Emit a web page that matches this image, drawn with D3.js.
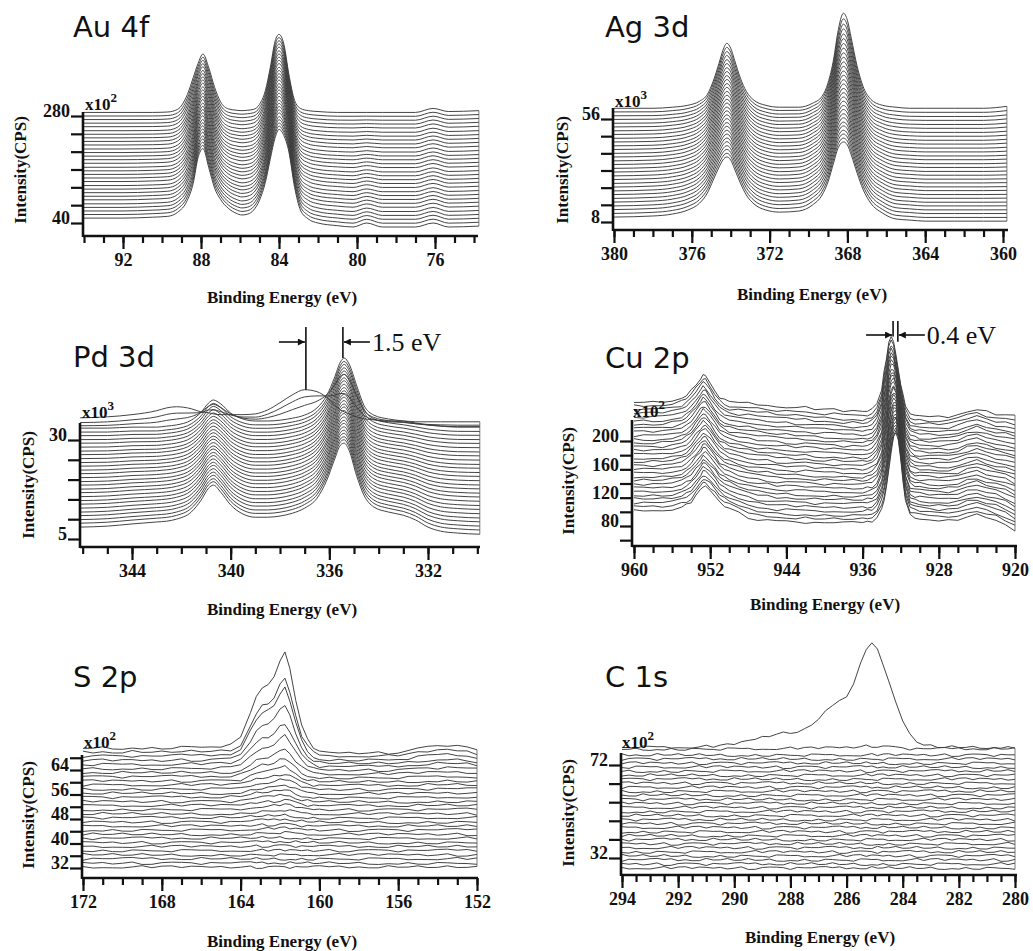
<!DOCTYPE html>
<html>
<head>
<meta charset="utf-8">
<script src="https://cdn.jsdelivr.net/npm/d3@7"></script>
<style>
body { margin: 0; background: #fff; }
text { font-family: "Liberation Serif", "Times New Roman", serif; font-weight: bold; fill: #111; }
.title { font-family: "DejaVu Sans", sans-serif; font-weight: normal; font-size: 29px; }
.trace { fill: none; stroke: #3a3a3a; stroke-width: 0.95; }
.axisline { stroke: #111; stroke-width: 2.6; }
</style>
</head>
<body>
<svg id="chart" width="1033" height="951"></svg>
<script>

// 
// spectra, intensities in the units of each y axis
// low = first (bottom) trace above its own baseline, high = last (top) trace
// 

// Au 4f
var auEnergy = [94, 92, 90.5, 89.7, 89.2, 88.7, 88.4, 88.15, 87.9, 87.6, 87.3, 87.0, 86.6, 86.2, 85.9, 85.6, 85.3, 85.0, 84.7, 84.45, 84.2, 84.0, 83.75, 83.5, 83.2, 82.9, 82.5, 82.0, 81.0, 80.2, 79.5, 78.7, 77.0, 76.1, 75.3, 73.75];
var auLow = [0, 0, 2, 4, 13, 40, 78, 136, 156, 113, 67, 42, 22, 11, 7, 9, 18, 40, 80, 132, 180, 199, 185, 150, 69, 18, -2, -11, -17, -20, -11, -20, -20, -11, -20, -18];
var auHigh = [0, 0, 0, 1, 7, 40, 78, 110, 131, 100, 56, 24, 8, 5, 4, 5, 7, 18, 49, 100, 160, 175, 153, 87, 27, 9, 4, 2, 0, 0, 0, 0, 0, 9, 2, 4];
var auBase = [51, 59, 67, 75, 83, 92, 100, 108, 116, 124, 133, 141, 149, 157, 165, 174, 182, 190, 198, 206, 215, 223, 231, 239, 247, 256, 264, 272, 280, 288];
var auMix = [0, 0.03, 0.07, 0.1, 0.14, 0.17, 0.21, 0.24, 0.28, 0.31, 0.34, 0.38, 0.41, 0.45, 0.48, 0.52, 0.55, 0.59, 0.62, 0.66, 0.69, 0.72, 0.76, 0.79, 0.83, 0.86, 0.9, 0.93, 0.97, 1];
var auXLabels = [92, 88, 84, 80, 76];
var auYLabels = [40, 280];

// Ag 3d
var agEnergy = [380, 378, 377, 376.2, 375.6, 375.2, 374.9, 374.6, 374.4, 374.2, 374.0, 373.8, 373.5, 373.2, 372.8, 372.2, 371.5, 370.5, 369.8, 369.3, 369.0, 368.7, 368.5, 368.2, 368.0, 367.8, 367.5, 367.2, 366.8, 366.2, 365.5, 364.8, 364.0, 362.5, 361, 359.8];
var agLow = [0, 0.5, 1.4, 3.3, 6.5, 11.2, 17.2, 23.3, 26.6, 28, 26.6, 22.4, 15.8, 10.3, 6.1, 3.3, 2.3, 2.8, 5.6, 10.3, 16.3, 25.6, 31.7, 35, 33.6, 28.9, 20.5, 13, 6.5, 1.9, -0.9, -1.4, -1.9, -1.9, -1.9, -1.9];
var agHigh = [0, 0, 0.5, 1.4, 3.3, 6.5, 12.6, 21, 27, 30.3, 28, 22.4, 14, 7.9, 3.7, 1.4, 0.5, 0.5, 2.3, 5.6, 11.7, 23.3, 35, 44.3, 41, 32.6, 19.6, 10.3, 4.2, 1.4, 0.5, 0, 0, 0, 0, 0.9];
var agBase = [10.3, 12.0, 13.8, 15.5, 17.3, 19.0, 20.8, 22.5, 24.3, 26.0, 27.8, 29.5, 31.3, 33.0, 34.8, 36.5, 38.3, 40.0, 41.8, 43.5, 45.3, 47.0, 48.8, 50.5, 52.3, 54.0, 55.8, 57.5, 59.3, 61.0];
var agMix = [0, 0.01, 0.02, 0.03, 0.05, 0.06, 0.08, 0.1, 0.12, 0.14, 0.16, 0.19, 0.21, 0.24, 0.27, 0.3, 0.33, 0.36, 0.4, 0.44, 0.48, 0.52, 0.56, 0.61, 0.66, 0.71, 0.77, 0.83, 0.9, 1];
var agXLabels = [380, 376, 372, 368, 364, 360];
var agYLabels = [8, 56];

// Pd 3d (metal doublet plus the shifted oxide doublet of the top traces)
var pdEnergy = [346.1, 345, 344, 343, 342.6, 342.2, 341.6, 341.2, 340.9, 340.7, 340.4, 340.0, 339.5, 339, 338.5, 338, 337.5, 337.0, 336.5, 336.1, 335.8, 335.55, 335.4, 335.2, 334.9, 334.6, 334.2, 333.6, 333.0, 332.5, 332.0, 331.5, 330.8, 329.9];
var pdLow = [0, 0.25, 0.8, 1.3, 1.5, 2.0, 3.8, 6.8, 9.8, 10.6, 8.8, 5.6, 3.3, 2.5, 2.5, 2.8, 3.5, 4.8, 7.3, 11.9, 16.9, 20.7, 21.2, 19.4, 13.1, 8.1, 5.1, 3.8, 3.0, 1.8, 0, -1.0, -1.5, -1.8];
var pdHigh = [0, 0, 0.25, 0.25, 0.5, 0.8, 2.0, 4.0, 6.3, 7.1, 6.1, 3.8, 2.3, 1.8, 1.8, 2.0, 2.5, 3.3, 5.1, 8.3, 12.6, 16.7, 17.7, 16.2, 10.9, 5.8, 3.3, 2.3, 1.8, 1.3, 0.8, 0.5, 0.25, 0.25];
var pdOxide = [0, 0.25, 0.8, 1.8, 2.5, 2.8, 2.3, 1.5, 1.3, 1.0, 0.8, 0.8, 0.8, 1.0, 2.0, 3.8, 5.8, 7.1, 6.6, 5.1, 3.3, 2.0, 1.5, 1.0, 0.25, -0.25, -0.5, -0.8, -0.8, -1.0, -1.0, -1.0, -1.0, -1.0];
var pdBase = [8.0, 9.0, 9.9, 10.9, 11.8, 12.8, 13.8, 14.7, 15.7, 16.7, 17.6, 18.6, 19.5, 20.5, 21.5, 22.4, 23.4, 24.3, 25.3, 26.3, 27.2, 28.2, 29.2, 30.1, 31.1, 32.0, 33.0, 33.6, 34.4, 35.6];
var pdMix = [0, 0.04, 0.08, 0.12, 0.15, 0.19, 0.23, 0.27, 0.31, 0.35, 0.38, 0.42, 0.46, 0.5, 0.54, 0.58, 0.62, 0.65, 0.69, 0.73, 0.77, 0.81, 0.85, 0.88, 0.92, 0.96, 1, 1, 1, 1];
var pdMetal = [1, 1, 1, 1, 1, 1, 1, 1, 1, 1, 1, 1, 1, 1, 1, 1, 1, 1, 1, 1, 1, 1, 1, 1, 1, 1, 1, 0.7, 0.35, 0];
var pdOxideW = [0, 0, 0, 0, 0, 0, 0, 0, 0, 0, 0, 0, 0, 0, 0, 0, 0, 0, 0, 0, 0, 0, 0, 0, 0, 0, 0, 0.4, 0.75, 1];
var pdXLabels = [344, 340, 336, 332];
var pdYLabels = [5, 30];
var pdShift = [336.95, 335.45];

// Cu 2p
var cuEnergy = [960, 959, 958, 957, 956, 955, 954.5, 954, 953.5, 953, 952.75, 952.5, 952, 951.5, 951, 950.5, 950, 949, 948, 947, 946, 945, 944, 943, 942, 941, 940, 939, 938, 937, 936, 935.5, 935, 934.5, 934, 933.75, 933.5, 933.25, 933, 932.75, 932.5, 932.25, 932, 931.75, 931.5, 931, 930.5, 930, 929, 928, 927, 926, 925, 924, 923, 922, 921, 920];
var cuLow = [0, 0, 0, 0, 1, 4, 7, 11, 20, 28, 33, 33, 27, 20, 11, 6, 3, -4, -10, -13, -14, -16, -16, -17, -17, -18, -18, -18, -18, -18, -18, -17, -16, -11, 3, 14, 31, 57, 82, 102, 110, 99, 71, 40, 14, -7, -10, -11, -13, -14, -14, -13, -8, -6, -11, -14, -20, -28];
var cuHigh = [0, 0, 0, 1, 3, 6, 10, 17, 25, 34, 38, 37, 27, 16, 7, 3, 0, -1, -1, -3, -4, -6, -7, -8, -8, -10, -11, -11, -13, -13, -14, -13, -10, -1, 17, 42, 62, 86, 92, 84, 66, 45, 26, 10, -6, -17, -20, -21, -21, -21, -21, -18, -13, -10, -14, -18, -18, -20];
var cuBase = [102.4, 107.7, 112.9, 118.2, 123.4, 128.7, 134.0, 139.2, 144.5, 149.7, 155.0, 160.3, 165.5, 170.8, 176.0, 181.3, 186.6, 191.8, 197.1, 202.3, 207.6, 212.9, 218.1, 223.4, 228.6, 233.9, 239.2, 244.4, 249.7, 255.0];
var cuMix = [0, 0.03, 0.07, 0.1, 0.14, 0.17, 0.21, 0.24, 0.28, 0.31, 0.34, 0.38, 0.41, 0.45, 0.48, 0.52, 0.55, 0.59, 0.62, 0.66, 0.69, 0.72, 0.76, 0.79, 0.83, 0.86, 0.9, 0.93, 0.97, 1];
var cuXLabels = [960, 952, 944, 936, 928, 920];
var cuYLabels = [80, 120, 160, 200];
var cuShift = [932.8, 932.3];

// S 2p
var sEnergy = [172, 171.5, 171, 170.5, 170, 169.5, 169, 168.5, 168, 167.5, 167, 166.5, 166, 165.5, 165, 164.5, 164, 163.5, 163.2, 162.9, 162.6, 162.3, 162.0, 161.75, 161.5, 161.2, 160.9, 160.6, 160.3, 160, 159.5, 159, 158.5, 158, 157.5, 157, 156.5, 156, 155.5, 155, 154.5, 154, 153.5, 153, 152.5, 152];
var sPeak = [0, 0, 0.16, 0, 0, 0.16, 0, 0, 0, 0.16, 0.33, 0.33, 0.33, 0.49, 0.65, 1.0, 3.3, 11.4, 16.7, 19.9, 20.9, 23.5, 28.7, 31.3, 25.5, 15.7, 7.2, 2.6, 0, -1.3, -1.6, -1.6, -1.6, -1.6, -1.6, -1.6, -1.6, -1.3, -1.0, -0.3, 0.3, 0.65, 1.0, 0.65, 0.3, -0.65];
var sBase = [32.3, 33.6, 35.0, 36.3, 37.7, 39.0, 40.3, 41.7, 43.0, 44.4, 45.7, 47.0, 48.4, 49.7, 51.1, 52.4, 53.7, 55.1, 56.4, 57.8, 59.1, 60.4, 61.8, 63.1, 64.5, 65.8, 67.1, 68.5, 69.8, 71.2];
var sMix = [0, 0, 0, 0, 0, 0.01, 0.01, 0.01, 0.02, 0.02, 0.02, 0.03, 0.03, 0.04, 0.05, 0.06, 0.07, 0.08, 0.09, 0.1, 0.12, 0.15, 0.19, 0.25, 0.34, 0.43, 0.57, 0.71, 0.77, 1];
var sXLabels = [172, 168, 164, 160, 156, 152];
var sYLabels = [32, 40, 48, 56, 64];

// C 1s
var cEnergy = [294, 293.75, 293.5, 293.25, 293, 292.75, 292.5, 292.25, 292, 291.75, 291.5, 291.25, 291, 290.75, 290.5, 290.25, 290, 289.75, 289.5, 289.25, 289, 288.75, 288.5, 288.25, 288, 287.75, 287.5, 287.25, 287, 286.75, 286.5, 286.25, 286, 285.75, 285.5, 285.3, 285.1, 284.9, 284.7, 284.5, 284.25, 284, 283.75, 283.5, 283.25, 283, 282.75, 282.5, 282.25, 282, 281.75, 281.5, 281.25, 281, 280.75, 280.5, 280.25, 280];
var cPeak = [0, 0, 0, 0, 0, 0, 0, 0, 0, 0, 0, 0, 0.2, 0.2, 0.43, 0.86, 1.3, 1.9, 2.6, 3.4, 4.3, 4.9, 5.6, 6.0, 6.5, 6.9, 7.7, 9.0, 11.6, 15.5, 18.5, 19.8, 21.5, 27.1, 35.7, 41.3, 44.7, 41.7, 35.7, 28.4, 19.8, 11.6, 5.2, 2.2, 0.86, 0.43, 0, 0, 0, 0, 0, 0, 0, 0, 0, 0, 0, 0];
var cBase = [27.7, 29.4, 31.2, 32.9, 34.6, 36.4, 38.1, 39.9, 41.6, 43.3, 45.1, 46.8, 48.5, 50.3, 52.0, 53.7, 55.5, 57.2, 59.0, 60.7, 62.4, 64.2, 65.9, 67.6, 69.4, 71.1, 72.8, 74.6, 76.3, 78.9, 79.7];
var cMix = [0, 0, 0, 0, 0, 0, 0, 0, 0, 0, 0, 0, 0, 0, 0, 0, 0, 0, 0, 0, 0, 0, 0, 0, 0, 0, 0, 0, 0, 0.03, 1];
var cXLabels = [294, 292, 290, 288, 286, 284, 282, 280];
var cYLabels = [32, 72];

// counting noise seen on the weak spectra, relative size
var ripple = [0.3, -0.5, 0.8, -0.2, -0.9, 0.4, 0.1, -0.6, 0.9, -0.3, 0.5, -0.8, 0.2, 0.7, -0.4, -0.1, 0.6, -0.7, 0.3, -0.2, 0.9, -0.5, 0.0, 0.4, -0.9, 0.6, -0.3, 0.2, -0.6, 0.8, -0.1, -0.4, 0.5, -0.8, 0.7, 0.1, -0.3, 0.4, -0.7, 0.2, 0.6, -0.5, 0.9, -0.2, -0.6, 0.3, -0.9, 0.5, 0.1, -0.4, 0.8, -0.1, -0.7, 0.4, 0.2, -0.5, 0.6, -0.3, 0.7, -0.8, 0.1];


var svg = d3.select("#chart");

svg.append("defs").append("marker")
    .attr("id", "arrow")
    .attr("viewBox", "0 0 10 10")
    .attr("refX", 10).attr("refY", 5)
    .attr("markerWidth", 9).attr("markerHeight", 7)
    .attr("markerUnits", "userSpaceOnUse")
    .attr("orient", "auto")
    .append("path").attr("d", "M0,0 L10,5 L0,10 z").attr("fill", "#111");

// layout of the six panels
var panels = [
    { title: "Au 4f", titleAt: [73, 37], power: "2", powerAt: [85, 110],
      energy: auEnergy, low: auLow, high: auHigh, base: auBase, mix: auMix,
      xRef: [92, 76], xPx: [123, 435], xLine: [83, 478], xTicks: [74, 94, 1], xLabels: auXLabels,
      yRef: [40, 280], yPx: [223, 116], yLine: [236, 112], yTicks: [40, 280, 40], yLabels: auYLabels,
      xTitleAt: [282, 303], yTitleAt: [26, 170] },
    { title: "Ag 3d", titleAt: [605, 37], power: "3", powerAt: [615, 107],
      energy: agEnergy, low: agLow, high: agHigh, base: agBase, mix: agMix,
      xRef: [380, 360], xPx: [614, 1003], xLine: [613, 1008], xTicks: [360, 380, 1], xLabels: agXLabels,
      yRef: [8, 56], yPx: [222, 119], yLine: [230, 108], yTicks: [8, 56, 8], yLabels: agYLabels,
      xTitleAt: [812, 300], yTitleAt: [568, 170] },
    { title: "Pd 3d", titleAt: [73, 367], power: "3", powerAt: [82, 418],
      energy: pdEnergy, low: pdLow, high: pdHigh, base: pdBase, mix: pdMix,
      amp: pdMetal, extra: pdOxide, extraW: pdOxideW,
      xRef: [344, 332], xPx: [132, 428], xLine: [80, 480], xTicks: [330, 346, 1], xLabels: pdXLabels,
      yRef: [5, 30], yPx: [539, 440], yLine: [547, 423], yTicks: [5, 30, 5], yLabels: pdYLabels,
      xTitleAt: [282, 615], yTitleAt: [34, 485],
      shift: pdShift, shiftText: "1.5 eV", shiftTop: 327, shiftArrowY: 342 },
    { title: "Cu 2p", titleAt: [605, 368], power: "2", powerAt: [633, 417],
      energy: cuEnergy, low: cuLow, high: cuHigh, base: cuBase, mix: cuMix, noise: 2,
      xRef: [960, 920], xPx: [634, 1015], xLine: [632, 1017], xTicks: [920, 960, 2], xLabels: cuXLabels,
      yRef: [80, 200], yPx: [526, 441], yLine: [546, 420], yTicks: [60, 200, 20], yLabels: cuYLabels,
      xTitleAt: [825, 610], yTitleAt: [574, 481],
      shift: cuShift, shiftText: "0.4 eV", shiftTop: 321, shiftArrowY: 335 },
    { title: "S 2p", titleAt: [73, 687], power: "2", powerAt: [84, 748],
      energy: sEnergy, high: sPeak, base: sBase, mix: sMix, noise: 0.5,
      xRef: [172, 152], xPx: [83, 477], xLine: [82, 478], xTicks: [152, 172, 1], xLabels: sXLabels,
      yRef: [32, 64], yPx: [868, 770], yLine: [878, 755], yTicks: [32, 68, 4], yLabels: sYLabels,
      xTitleAt: [282, 947], yTitleAt: [34, 815] },
    { title: "C 1s", titleAt: [605, 687], power: "2", powerAt: [622, 748],
      energy: cEnergy, high: cPeak, base: cBase, mix: cMix, noise: 0.7,
      xRef: [294, 280], xPx: [622, 1015], xLine: [621, 1017], xTicks: [280, 294, 0.5], xLabels: cXLabels,
      yRef: [32, 72], yPx: [858, 765], yLine: [875, 753], yTicks: [32, 72, 8], yLabels: cYLabels,
      xTitleAt: [820, 943], yTitleAt: [574, 813] }
];

panels.forEach(drawPanel);

// bold comb-like ticks of the original plotting program
function styleTicks(s) {
    s.select(".domain").remove();
    s.selectAll(".tick line")
        .attr("stroke", "#111")
        .attr("stroke-width", 2.2);
    s.selectAll(".tick text")
        .attr("fill", "#111")
        .style("font-size", "18px");
}

// 
// one stack of spectra with its axes
// 
function drawPanel(p) {

    var g = svg.append("g");
    var x = d3.scaleLinear().domain(p.xRef).range(p.xPx);
    var y = d3.scaleLinear().domain(p.yRef).range(p.yPx);
    var last = p.energy.length - 1;

    var traces = p.base.map(function(b, i) {
        var m = p.mix[i];
        var a = p.amp ? p.amp[i] : 1;
        return p.energy.map(function(e, j) {
            var v = b + a * ((1 - m) * (p.low ? p.low[j] : 0) + m * p.high[j]);
            if (p.extra) v += p.extraW[i] * p.extra[j];
            // each spectrum reads the noise table in its own order
            if (p.noise) v += p.noise * ripple[(7 * j + 23 * i) % ripple.length];
            return [e, v];
        });
    });

    var line = d3.line()
        .x(function(d) { return x(d[0]); })
        .y(function(d) { return y(d[1]); })
        .curve(p.noise ? d3.curveLinear : d3.curveMonotoneX);

    g.selectAll(".trace")
        .data(traces)
        .enter().append("path")
        .attr("class", "trace")
        .attr("d", line);

    // thin edge joining the ends of the stack
    g.append("line")
        .attr("x1", x(p.energy[last])).attr("x2", x(p.energy[last]))
        .attr("y1", y(traces[traces.length - 1][last][1]))
        .attr("y2", y(traces[0][last][1]))
        .attr("stroke", "#555").attr("stroke-width", 0.8);

    // x axis: minor and labelled ticks
    var xMinor = d3.axisBottom(x)
        .tickValues(d3.range(p.xTicks[0], p.xTicks[1] + 1e-6, p.xTicks[2]))
        .tickSize(7)
        .tickFormat(function() { return ""; });
    g.append("g")
        .attr("transform", "translate(0," + p.yLine[0] + ")")
        .call(xMinor)
        .call(styleTicks);

    var xMajor = d3.axisBottom(x)
        .tickValues(p.xLabels)
        .tickSize(13)
        .tickPadding(4)
        .tickFormat(d3.format("d"));
    g.append("g")
        .attr("transform", "translate(0," + p.yLine[0] + ")")
        .call(xMajor)
        .call(styleTicks);

    // y axis
    var yAxis = d3.axisLeft(y)
        .tickValues(d3.range(p.yTicks[0], p.yTicks[1] + 1e-6, p.yTicks[2]))
        .tickSize(12)
        .tickPadding(1)
        .tickFormat(function(d) { return p.yLabels.indexOf(d) >= 0 ? d : ""; });
    g.append("g")
        .attr("transform", "translate(" + p.xLine[0] + ",0)")
        .call(yAxis)
        .call(styleTicks)
        .call(function(s) { s.selectAll("text").attr("dy", "0.05em"); });

    g.append("line").attr("class", "axisline")
        .attr("x1", p.xLine[0]).attr("x2", p.xLine[1])
        .attr("y1", p.yLine[0]).attr("y2", p.yLine[0]);
    g.append("line").attr("class", "axisline")
        .attr("x1", p.xLine[0]).attr("x2", p.xLine[0])
        .attr("y1", p.yLine[0] + 1).attr("y2", p.yLine[1]);

    // texts
    g.append("text")
        .attr("class", "title")
        .attr("x", p.titleAt[0]).attr("y", p.titleAt[1])
        .text(p.title);

    var pw = g.append("text")
        .attr("x", p.powerAt[0]).attr("y", p.powerAt[1])
        .style("font-size", "17px");
    pw.append("tspan").text("x10");
    pw.append("tspan").attr("dy", -8).style("font-size", "13px").text(p.power);

    g.append("text")
        .attr("x", p.xTitleAt[0]).attr("y", p.xTitleAt[1])
        .attr("text-anchor", "middle")
        .style("font-size", "17px")
        .text("Binding Energy (eV)");

    g.append("text")
        .attr("transform", "translate(" + p.yTitleAt[0] + "," + p.yTitleAt[1] + ") rotate(-90)")
        .attr("text-anchor", "middle")
        .style("font-size", "17px")
        .text("Intensity(CPS)");

    // peak shift marker
    if (p.shift) {
        var ends = p.shift.map(function(e) {
            var top = d3.max(traces, function(t) {
                return d3.max(t, function(d) { return Math.abs(d[0] - e) <= 0.5 ? d[1] : -Infinity; });
            });
            return { x: x(e), y: y(top) };
        });
        ends.forEach(function(d) {
            g.append("line")
                .attr("x1", d.x).attr("x2", d.x)
                .attr("y1", p.shiftTop).attr("y2", d.y)
                .attr("stroke", "#111").attr("stroke-width", 1.6);
        });
        g.append("line")
            .attr("x1", ends[0].x - 27).attr("x2", ends[0].x - 1)
            .attr("y1", p.shiftArrowY).attr("y2", p.shiftArrowY)
            .attr("stroke", "#111").attr("stroke-width", 1.6)
            .attr("marker-end", "url(#arrow)");
        g.append("line")
            .attr("x1", ends[1].x + 27).attr("x2", ends[1].x + 1)
            .attr("y1", p.shiftArrowY).attr("y2", p.shiftArrowY)
            .attr("stroke", "#111").attr("stroke-width", 1.6)
            .attr("marker-end", "url(#arrow)");
        g.append("text")
            .attr("x", ends[1].x + 29).attr("y", p.shiftArrowY + 9)
            .style("font-size", "26px").style("font-weight", "normal")
            .text(p.shiftText);
    }
}

</script>
</body>
</html>
